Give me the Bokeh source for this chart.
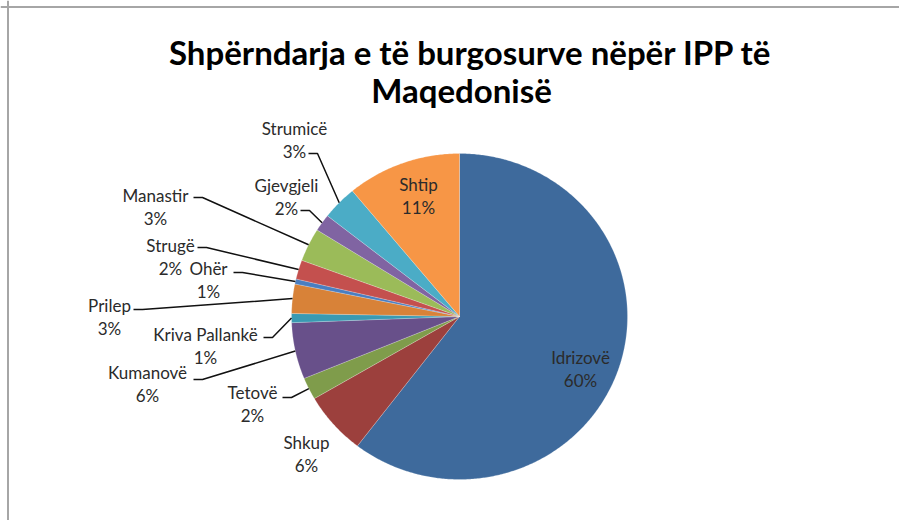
import math
from bokeh.plotting import figure
from bokeh.models import Range1d, Span
from bokeh.embed import file_html
from bokeh.resources import INLINE
from bokeh.core.properties import value

# ---------------- data ----------------
title_lines = ["Shpërndarja e të burgosurve nëpër IPP të", "Maqedonisë"]
names = ["Idrizovë", "Shkup", "Tetovë", "Kumanovë", "Kriva Pallankë", "Prilep",
         "Ohër", "Strugë", "Manastir", "Gjevgjeli", "Strumicë", "Shtip"]
shares = [60.4, 6.2, 2.2, 5.6, 0.9, 2.9, 0.5, 1.9, 3.3, 1.7, 3.4, 11.0]

# ---------------- style / layout ----------------
colors = ["#3E6A9C", "#9C403D", "#7F9C4B", "#68508A", "#3A9AB2", "#D88238",
          "#4A7EC0", "#C4504E", "#9BBB59", "#8064A2", "#4BACC6", "#F79646"]
CX, CY, RX, RY = 459, 316, 168, 163          # pie centre / radii (px)
FONT = "Lato"
# centre of the name line of each label (page px)
label_pos = {
    "Idrizovë": (580, 357), "Shkup": (306, 442), "Tetovë": (252, 392),
    "Kumanovë": (147, 372), "Kriva Pallankë": (205, 334), "Prilep": (109, 305),
    "Ohër": (208, 268), "Strugë": (170, 245), "Manastir": (155, 195),
    "Gjevgjeli": (286, 185), "Strumicë": (294, 128), "Shtip": (418, 184),
}
# start of leader line (page px)
leader_start = {
    "Tetovë": (282, 397), "Kumanovë": (193, 379), "Kriva Pallankë": (263, 337),
    "Prilep": (133, 309), "Ohër": (233, 272), "Strugë": (197, 247),
    "Manastir": (193, 197), "Gjevgjeli": (300, 210), "Strumicë": (308, 153),
}
LINE_GAP = 22.5
title_pos = [(470, 51), (461, 89)]

W, H = 899, 520
p = figure(width=W, height=H, output_backend="svg", toolbar_location=None,
           x_range=Range1d(0, W), y_range=Range1d(H, 0),
           min_border=0, outline_line_color=None)
p.axis.visible = False
p.grid.visible = False
p.background_fill_color = "white"
p.border_fill_color = "white"

# chart-area frame (top and left edges visible)
p.add_layout(Span(location=7.5, dimension="height", line_color="#A6A6A6", line_width=2))
p.add_layout(Span(location=6.5, dimension="width", line_color="#A6A6A6", line_width=2))

total = sum(shares)
xs_all, ys_all, mids = [], [], []
acc = 0.0
for s in shares:
    a0 = acc / total * 2 * math.pi
    acc += s
    a1 = acc / total * 2 * math.pi
    n = max(4, int((a1 - a0) / (2 * math.pi) * 720))
    xs = [CX]
    ys = [CY]
    for i in range(n + 1):
        t = a0 + (a1 - a0) * i / n
        xs.append(CX + RX * math.sin(t))
        ys.append(CY - RY * math.cos(t))
    xs_all.append(xs)
    ys_all.append(ys)
    mids.append((a0 + a1) / 2)

p.patches(xs_all, ys_all, fill_color=colors, line_color="white", line_alpha=0.35, line_width=0.6)

# leader lines
lx, ly = [], []
for name, m in zip(names, mids):
    st = leader_start.get(name)
    if st is None:
        continue
    ex = CX + RX * math.sin(m)
    ey = CY - RY * math.cos(m)
    lx.append([st[0], st[0] + 9, ex])
    ly.append([st[1], st[1], ey])
p.multi_line(lx, ly, line_color="#111111", line_width=1.5)

# labels
nx, ny, px_, py_, pct = [], [], [], [], []
for name, s in zip(names, shares):
    x, y = label_pos[name]
    nx.append(x); ny.append(y)
    px_.append(x); py_.append(y + LINE_GAP)
    pct.append(f"{math.floor(s / total * 100 + 0.5)}%")
p.text(nx, ny, text=names, text_align="center", text_baseline="middle",
       text_font=value(FONT), text_font_size="17px", text_color="#2B2B2B")
p.text(px_, py_, text=pct, text_align="center", text_baseline="middle",
       text_font=value(FONT), text_font_size="17px", text_color="#2B2B2B")

# title
p.text([t[0] for t in title_pos], [t[1] for t in title_pos], text=title_lines,
       text_align="center", text_baseline="middle",
       text_font=value(FONT), text_font_size="33px", text_font_style="bold",
       text_color="#000000")

open("out.html", "w").write(file_html(p, INLINE))
